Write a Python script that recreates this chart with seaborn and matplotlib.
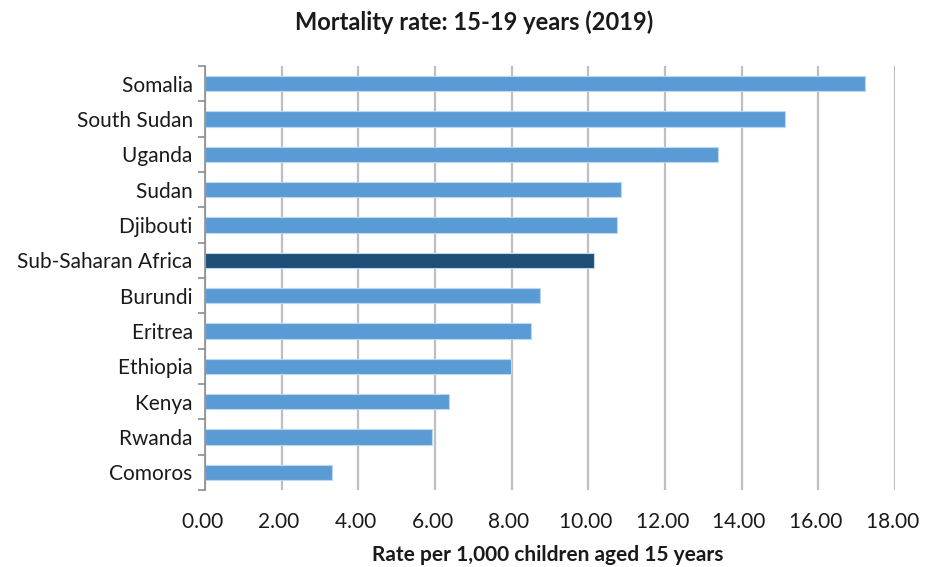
import matplotlib
matplotlib.use("Agg")
import matplotlib.pyplot as plt
import matplotlib.ticker as mticker
import numpy as np
import pandas as pd
import seaborn as sns

countries = ["Somalia", "South Sudan", "Uganda", "Sudan", "Djibouti",
             "Sub-Saharan Africa", "Burundi", "Eritrea", "Ethiopia",
             "Kenya", "Rwanda", "Comoros"]
rates = [17.21, 15.13, 13.38, 10.86, 10.75, 10.14, 8.73, 8.51, 7.99,
         6.37, 5.93, 3.32]
groups = ["country"] * 5 + ["region"] + ["country"] * 6
x_ticks = [0, 2, 4, 6, 8, 10, 12, 14, 16, 18]

df = pd.DataFrame({"country": countries, "rate": rates, "group": groups})

sns.set_theme(style="white")
plt.rcParams["font.family"] = ["Lato", "DejaVu Sans"]

fig = plt.figure(figsize=(9.36, 5.67), dpi=100)
ax = fig.add_axes([205 / 936, 1 - 490 / 567, 690 / 936, 424 / 567])

sns.barplot(data=df, y="country", x="rate", hue="group",
            palette={"country": "#5B9BD5", "region": "#1F4E79"},
            saturation=1, orient="h", width=0.44, dodge=False, legend=False,
            edgecolor="#BDD7EE", linewidth=0.8, ax=ax, zorder=3)

ax.set_xlim(0, 18)
ax.set_ylim(len(countries) - 0.5, -0.5)
ax.set_xticks(x_ticks)
ax.xaxis.set_major_formatter(mticker.FuncFormatter(lambda v, p: f"{v:.2f} "))
ax.grid(axis="x", color="#BFBFBF", linewidth=1.6, zorder=0)
ax.grid(axis="y", visible=False)

for side in ["top", "right", "bottom"]:
    ax.spines[side].set_visible(False)
ax.spines["left"].set_color("#8C8C8C")
ax.spines["left"].set_linewidth(1.2)
ax.spines["left"].set_zorder(4)

ax.set_yticks(range(len(countries)))
ax.set_yticklabels([c + " " for c in countries])
ax.yaxis.set_minor_locator(mticker.FixedLocator(np.arange(-0.5, len(countries), 1)))
ax.tick_params(axis="y", which="major", length=0, pad=5, labelsize=15,
               labelcolor="#1A1A1A")
ax.tick_params(axis="y", which="minor", left=True, length=5, width=1.2,
               color="#8C8C8C")
ax.tick_params(axis="x", length=0, pad=16, labelsize=15, labelcolor="#1A1A1A")

ax.set_xlabel("Rate per 1,000 children aged 15 years ", fontsize=15,
              fontweight="bold", color="#1A1A1A", labelpad=9)
ax.set_ylabel("")
fig.text(477 / 936, 1 - 22 / 567, "Mortality rate: 15-19 years (2019) ",
         ha="center", va="center", fontsize=17, fontweight="bold",
         color="#1A1A1A")

fig.savefig("out.png", dpi=100, facecolor="white")
